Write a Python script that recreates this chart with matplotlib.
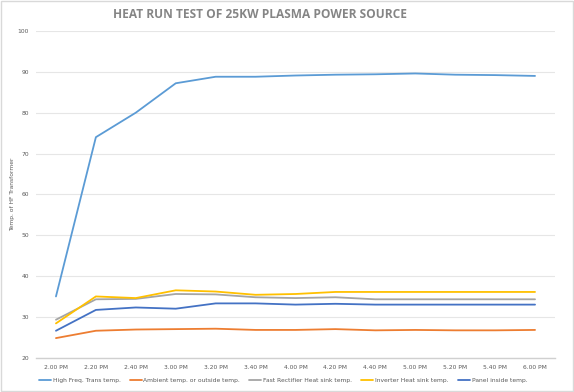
import matplotlib
matplotlib.use("Agg")
import matplotlib.pyplot as plt
from matplotlib.patches import Rectangle

times = ["2.00 PM", "2.20 PM", "2.40 PM", "3.00 PM", "3.20 PM", "3.40 PM", "4.00 PM",
         "4.20 PM", "4.40 PM", "5.00 PM", "5.20 PM", "5.40 PM", "6.00 PM"]
hf_trans = [35.0, 74.0, 80.0, 87.2, 88.8, 88.8, 89.1, 89.3, 89.4, 89.6, 89.3, 89.2, 89.0]
ambient = [24.8, 26.6, 26.9, 27.0, 27.1, 26.8, 26.8, 27.0, 26.7, 26.8, 26.7, 26.7, 26.8]
rectifier = [29.3, 34.3, 34.4, 35.6, 35.5, 34.8, 34.6, 34.8, 34.3, 34.3, 34.3, 34.3, 34.3]
inverter = [28.4, 35.0, 34.6, 36.5, 36.2, 35.4, 35.6, 36.1, 36.1, 36.1, 36.1, 36.1, 36.1]
panel = [26.6, 31.7, 32.3, 32.0, 33.3, 33.3, 33.0, 33.2, 33.0, 33.0, 33.0, 33.0, 33.0]

series = [
    ("High Freq. Trans temp.", hf_trans, "#5B9BD5"),
    ("Ambient temp. or outside temp.", ambient, "#ED7D31"),
    ("Fast Rectifier Heat sink temp.", rectifier, "#A5A5A5"),
    ("Inverter Heat sink temp.", inverter, "#FFC000"),
    ("Panel inside temp.", panel, "#4472C4"),
]

W, H = 574, 392
fig = plt.figure(figsize=(W / 100, H / 100), dpi=100)
fig.patch.set_facecolor("white")
fig.patches.append(Rectangle((0.002, 0.003), 0.996, 0.994, transform=fig.transFigure,
                             fill=False, edgecolor="#D9D9D9", linewidth=1.0))

left, right = 36 / W, 555 / W
bottom, top = 1 - 357.7 / H, 1 - 31 / H
ax = fig.add_axes([left, bottom, right - left, top - bottom])

x = list(range(len(times)))
for name, vals, color in series:
    ax.plot(x, vals, color=color, linewidth=1.3, label=name, solid_capstyle="round")

ax.set_xlim(-0.5, len(times) - 0.5)
ax.set_ylim(20, 100)
ax.set_yticks(range(20, 101, 10))
ax.set_xticks(x)
ax.set_xticklabels(times)
ax.grid(axis="y", color="#E6E6E6", linewidth=0.8)
ax.set_axisbelow(True)
for s in ["top", "right", "left"]:
    ax.spines[s].set_visible(False)
ax.spines["bottom"].set_color("#D0D0D0")
ax.spines["bottom"].set_linewidth(1.0)
ax.tick_params(axis="both", length=0, labelsize=4.3, colors="#595959", pad=5)
ax.set_ylabel("Temp. of HF Transformer", fontsize=4.3, color="#595959")
ax.yaxis.set_label_coords(-21 / 519, 0.5)

fig.text(260 / W, 1 - 15 / H, "HEAT RUN TEST OF 25KW PLASMA POWER SOURCE", ha="center",
         va="center", fontsize=8.6, fontweight="bold", color="#858585", fontfamily="Open Sans")

leg = fig.legend(loc="center", bbox_to_anchor=(283 / W, 1 - 380 / H), ncol=5, frameon=False,
                 fontsize=4.3, handlelength=2.0, columnspacing=1.55, handletextpad=0.3)
for t in leg.get_texts():
    t.set_color("#595959")

fig.savefig("out.png", dpi=100, facecolor="white")
